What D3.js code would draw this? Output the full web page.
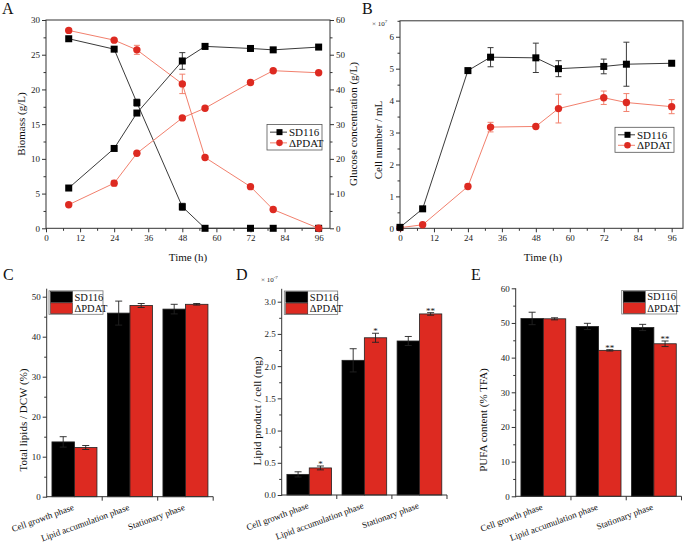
<!DOCTYPE html>
<html><head><meta charset="utf-8">
<script src="https://cdn.jsdelivr.net/npm/d3@7"></script>
<style>body{margin:0;background:#fff}svg{display:block}svg text{font-family:"Liberation Serif","Times New Roman",serif !important}</style>
</head><body><svg id="c" width="685" height="542"></svg>
<script>
// ---------- DATA ----------
const timeA = [8, 24, 32, 48, 56, 72, 80, 96];
const sdBiomass = [5.8, 11.5, 16.6, 24.1, 26.2, 25.9, 25.7, 26.1];
const sdBiomassErr = [0, 0, 0, 1.2, 0.4, 0, 0, 0];
const pdBiomass = [3.4, 6.5, 10.8, 15.9, 17.3, 21.0, 22.7, 22.4];
const pdBiomassErr = [0, 0.4, 0, 0, 0, 0.3, 0, 0];
const sdGlucose = [54.6, 51.6, 36.2, 6.2, 0, 0, 0, 0];
const sdGlucoseErr = [0, 0, 1.0, 1.0, 0, 0, 0, 0];
const pdGlucose = [57.0, 54.2, 51.4, 41.6, 20.4, 12.0, 5.4, 0];
const pdGlucoseErr = [0, 0, 1.3, 2.8, 0, 0, 0, 0];

const timeB = [0, 8, 24, 32, 48, 56, 72, 80, 96];
const sdCells = [0.03, 0.61, 4.94, 5.36, 5.34, 5.0, 5.07, 5.14, 5.17];
const sdCellsErr = [0, 0, 0, 0.3, 0.46, 0.25, 0.23, 0.69, 0];
const pdCells = [0.02, 0.11, 1.31, 3.17, 3.19, 3.75, 4.09, 3.94, 3.81];
const pdCellsErr = [0, 0, 0.07, 0.15, 0, 0.45, 0.21, 0.28, 0.22];

const xTicksTime = [0, 12, 24, 36, 48, 60, 72, 84, 96];
const phases = ["Cell growth phase", "Lipid accumulation phase", "Stationary phase"];
const strains = ["SD116", "\u0394PDAT"];

const lipidSD = [13.7, 45.9, 46.9];
const lipidSDErr = [1.3, 3.0, 1.2];
const lipidPD = [12.3, 47.8, 48.1];
const lipidPDErr = [0.5, 0.5, 0.2];

const perCellSD = [0.32, 2.09, 2.39];
const perCellSDErr = [0.04, 0.18, 0.07];
const perCellPD = [0.42, 2.44, 2.81];
const perCellPDErr = [0.03, 0.07, 0.02];
const perCellStars = ["*", "*", "**"];

const pufaSD = [51.3, 49.0, 48.7];
const pufaSDErr = [1.8, 0.9, 0.9];
const pufaPD = [51.2, 42.1, 44.0];
const pufaPDErr = [0.3, 0.2, 0.8];
const pufaStars = ["", "**", "**"];

// ---------- STYLE ----------
const FONT = "'Liberation Serif','Times New Roman',serif";
const AX = "#333";
const RED = "#dd2a21";
const RED_LINE = "#f2806d";
const DARK_LINE = "#3a3a3a";

const svg = d3.select("#c").attr("font-family", FONT);

function styleAxis(g) {
  g.attr("font-family", FONT);
  g.selectAll("path.domain").attr("stroke", AX);
  g.selectAll(".tick line").attr("stroke", AX);
  g.selectAll(".tick text").attr("font-size", 9).attr("fill", "#222");
  return g;
}
function label(x, y, txt, size, opts = {}) {
  const t = svg.append("text").attr("x", x).attr("y", y).text(txt)
    .attr("font-size", size).attr("fill", "#111").attr("text-anchor", opts.anchor || "middle");
  if (opts.rotate) t.attr("transform", `rotate(${opts.rotate},${x},${y})`);
  return t;
}
function halfSteps(arr) {
  const r = [];
  for (let i = 0; i < arr.length - 1; i++) r.push((arr[i] + arr[i + 1]) / 2);
  return r;
}

function drawSeries(g, x, y, xs, ys, errs, kind) {
  const lineCol = kind === "sq" ? DARK_LINE : RED_LINE;
  const data = xs.map((t, i) => ({ t, v: ys[i], e: errs[i] }));
  g.append("path").datum(data)
    .attr("d", d3.line().x(d => x(d.t)).y(d => y(d.v)))
    .attr("fill", "none").attr("stroke", lineCol).attr("stroke-width", 1);
  const eb = g.append("g").attr("stroke", lineCol).attr("stroke-width", 1);
  data.filter(d => d.e > 0).forEach(d => {
    const cx = x(d.t), y1 = y(d.v + d.e), y2 = y(d.v - d.e);
    eb.append("line").attr("x1", cx).attr("x2", cx).attr("y1", y1).attr("y2", y2);
    eb.append("line").attr("x1", cx - 3).attr("x2", cx + 3).attr("y1", y1).attr("y2", y1);
    eb.append("line").attr("x1", cx - 3).attr("x2", cx + 3).attr("y1", y2).attr("y2", y2);
  });
  data.forEach(d => {
    if (kind === "sq") {
      g.append("rect").attr("x", x(d.t) - 3.5).attr("y", y(d.v) - 3.5)
        .attr("width", 7).attr("height", 7).attr("fill", "#000");
    } else {
      g.append("circle").attr("cx", x(d.t)).attr("cy", y(d.v)).attr("r", 3.7)
        .attr("fill", RED);
    }
  });
}

function lineLegend(x0, y0, w, h, rows) {
  svg.append("rect").attr("x", x0).attr("y", y0).attr("width", w).attr("height", h)
    .attr("fill", "#fff").attr("stroke", "#555").attr("stroke-width", 0.8);
  rows.forEach((r, i) => {
    const cy = y0 + h * (i === 0 ? 0.3 : 0.72);
    svg.append("line").attr("x1", x0 + 3).attr("x2", x0 + 20).attr("y1", cy).attr("y2", cy)
      .attr("stroke", r.kind === "sq" ? DARK_LINE : RED_LINE);
    if (r.kind === "sq") svg.append("rect").attr("x", x0 + 12.5 - 3).attr("y", cy - 3).attr("width", 6).attr("height", 6).attr("fill", "#000");
    else svg.append("circle").attr("cx", x0 + 12.5).attr("cy", cy).attr("r", 3.3).attr("fill", RED);
    svg.append("text").attr("x", x0 + 22).attr("y", cy + 3.8).text(r.name)
      .attr("font-size", 11).attr("fill", "#111");
  });
}

// ---------- PANEL A ----------
{
  const x = d3.scaleLinear().domain([0, 100]).range([46, 330]);
  const yL = d3.scaleLinear().domain([0, 30]).range([228.3, 20]);
  const yR = d3.scaleLinear().domain([0, 60]).range([228.3, 20]);
  const g = svg.append("g");
  g.append("rect").attr("x", 46).attr("y", 20).attr("width", 284).attr("height", 208.3)
    .attr("fill", "none").attr("stroke", AX);
  styleAxis(g.append("g").attr("transform", "translate(0,228.3)")
    .call(d3.axisBottom(x).tickValues(xTicksTime).tickSize(4).tickPadding(2).tickFormat(d3.format("d"))));
  styleAxis(g.append("g").attr("transform", "translate(0,228.3)")
    .call(d3.axisBottom(x).tickValues(halfSteps(xTicksTime)).tickSize(2.5).tickFormat("")));
  const lt = d3.range(0, 31, 5);
  styleAxis(g.append("g").attr("transform", "translate(46,0)")
    .call(d3.axisLeft(yL).tickValues(lt).tickSize(4).tickPadding(2).tickFormat(d3.format("d"))));
  styleAxis(g.append("g").attr("transform", "translate(46,0)")
    .call(d3.axisLeft(yL).tickValues(halfSteps(lt)).tickSize(2.5).tickFormat("")));
  const rt = d3.range(0, 61, 10);
  styleAxis(g.append("g").attr("transform", "translate(330,0)")
    .call(d3.axisRight(yR).tickValues(rt).tickSize(4).tickPadding(2).tickFormat(d3.format("d"))));
  styleAxis(g.append("g").attr("transform", "translate(330,0)")
    .call(d3.axisRight(yR).tickValues(halfSteps(rt)).tickSize(2.5).tickFormat("")));
  g.selectAll("path.domain").remove();

  drawSeries(g, x, yR, timeA, sdGlucose, sdGlucoseErr, "sq");
  drawSeries(g, x, yR, timeA, pdGlucose, pdGlucoseErr, "ci");
  drawSeries(g, x, yL, timeA, pdBiomass, pdBiomassErr, "ci");
  drawSeries(g, x, yL, timeA, sdBiomass, sdBiomassErr, "sq");

  lineLegend(267, 124.5, 55, 25.5, [{ name: strains[0], kind: "sq" }, { name: strains[1], kind: "ci" }]);
  label(188, 261, "Time (h)", 11);
  label(24.5, 124, "Biomass (g/L)", 11, { rotate: -90 });
  label(357, 124, "Glucose concentration (g/L)", 11, { rotate: -90 });
  label(2, 14, "A", 16, { anchor: "start" });
}

// ---------- PANEL B ----------
{
  const x = d3.scaleLinear().domain([0, 100]).range([400, 683]);
  const y = d3.scaleLinear().domain([0, 6.5]).range([228.3, 20.8]);
  const g = svg.append("g");
  g.append("rect").attr("x", 400).attr("y", 20.8).attr("width", 283).attr("height", 207.5)
    .attr("fill", "none").attr("stroke", AX);
  styleAxis(g.append("g").attr("transform", "translate(0,228.3)")
    .call(d3.axisBottom(x).tickValues(xTicksTime).tickSize(4).tickPadding(2).tickFormat(d3.format("d"))));
  styleAxis(g.append("g").attr("transform", "translate(0,228.3)")
    .call(d3.axisBottom(x).tickValues(halfSteps(xTicksTime)).tickSize(2.5).tickFormat("")));
  const lt = d3.range(0, 7, 1);
  styleAxis(g.append("g").attr("transform", "translate(400,0)")
    .call(d3.axisLeft(y).tickValues(lt).tickSize(4).tickPadding(2).tickFormat(d3.format("d"))));
  styleAxis(g.append("g").attr("transform", "translate(400,0)")
    .call(d3.axisLeft(y).tickValues(halfSteps(lt).concat([6.5])).tickSize(2.5).tickFormat("")));
  g.selectAll("path.domain").remove();

  drawSeries(g, x, y, timeB, pdCells, pdCellsErr, "ci");
  drawSeries(g, x, y, timeB, sdCells, sdCellsErr, "sq");

  lineLegend(615, 127.3, 59, 25, [{ name: strains[0], kind: "sq" }, { name: strains[1], kind: "ci" }]);
  const sc = svg.append("text").attr("x", 372).attr("y", 25.5).attr("font-size", 7).attr("fill", "#222");
  sc.append("tspan").text("\u00d7 10");
  sc.append("tspan").text("7").attr("font-size", 5).attr("dy", -3);
  label(543, 261, "Time (h)", 11);
  label(382, 140, "Cell number / mL", 11, { rotate: -90 });
  label(362, 14, "B", 16, { anchor: "start" });
}

// ---------- BAR PANELS ----------
function barPanel(cfg) {
  const g = svg.append("g");
  const x0 = d3.scaleBand().domain(phases).range([cfg.left, cfg.right])
    .paddingInner(0.189).paddingOuter(0.0946);
  const x1 = d3.scaleBand().domain(strains).range([0, x0.bandwidth()]);
  const y = d3.scaleLinear().domain([0, cfg.ymax]).range([cfg.y0, cfg.ytop]);
  const step = x0.step();
  const bounds = phases.map((p, i) => cfg.left + step * (i + 1));

  const series = [
    { s: strains[0], v: cfg.sd, e: cfg.sdErr, fill: "#000" },
    { s: strains[1], v: cfg.pd, e: cfg.pdErr, fill: RED }
  ];
  series.forEach(se => {
    phases.forEach((p, i) => {
      const bx = x0(p) + x1(se.s);
      g.append("rect").attr("x", bx).attr("y", y(se.v[i])).attr("width", x1.bandwidth())
        .attr("height", y(0) - y(se.v[i])).attr("fill", se.fill)
        .attr("stroke", "#222").attr("stroke-width", 0.8);
    });
  });
  series.forEach(se => {
    phases.forEach((p, i) => {
      const cx = x0(p) + x1(se.s) + x1.bandwidth() / 2;
      const yt = y(se.v[i] + se.e[i]), yb = y(se.v[i] - se.e[i]);
      const eg = g.append("g").attr("stroke", "#222").attr("stroke-width", 0.9);
      eg.append("line").attr("x1", cx).attr("x2", cx).attr("y1", yt).attr("y2", yb);
      eg.append("line").attr("x1", cx - 3.5).attr("x2", cx + 3.5).attr("y1", yt).attr("y2", yt);
      eg.append("line").attr("x1", cx - 3.5).attr("x2", cx + 3.5).attr("y1", yb).attr("y2", yb);
    });
  });
  if (cfg.stars) {
    phases.forEach((p, i) => {
      if (!cfg.stars[i]) return;
      const cx = x0(p) + x1(strains[1]) + x1.bandwidth() / 2;
      g.append("text").attr("x", cx).attr("y", y(cfg.pd[i] + cfg.pdErr[i]) + 1)
        .attr("text-anchor", "middle").attr("font-size", 9).attr("fill", "#111")
        .text(cfg.stars[i]);
    });
  }

  styleAxis(g.append("g").attr("transform", `translate(${cfg.left},0)`)
    .call(d3.axisLeft(y).tickValues(cfg.ticks).tickSize(4).tickPadding(2).tickFormat(cfg.fmt)));
  styleAxis(g.append("g").attr("transform", `translate(${cfg.left},0)`)
    .call(d3.axisLeft(y).tickValues(halfSteps(cfg.ticks)).tickSize(2.5).tickFormat("")));
  g.selectAll("path.domain").remove();
  g.append("line").attr("x1", cfg.left).attr("x2", cfg.left).attr("y1", cfg.axTop).attr("y2", cfg.y0 + 1)
    .attr("stroke", AX);
  g.append("line").attr("x1", cfg.left).attr("x2", cfg.right).attr("y1", cfg.y0).attr("y2", cfg.y0)
    .attr("stroke", AX);
  bounds.forEach(bx => g.append("line").attr("x1", bx).attr("x2", bx)
    .attr("y1", cfg.y0).attr("y2", cfg.y0 + 4).attr("stroke", AX));

  phases.forEach(p => {
    const cx = x0(p) + x0.bandwidth() / 2, ly = cfg.y0 + 13;
    g.append("text").attr("x", cx).attr("y", ly).attr("text-anchor", "end")
      .attr("font-size", 9).attr("fill", "#111")
      .attr("transform", `rotate(-20,${cx},${ly})`).text(p);
  });

  const L = cfg.legend;
  g.append("rect").attr("x", L.x).attr("y", L.y).attr("width", L.w).attr("height", 23.5)
    .attr("fill", "#fff").attr("stroke", "#777").attr("stroke-width", 0.8);
  [["#000", strains[0]], [RED, strains[1]]].forEach((d, i) => {
    const ry = L.y + 0.8 + i * 11.3;
    g.append("rect").attr("x", L.x + 1.5).attr("y", ry).attr("width", 22).attr("height", 10.8)
      .attr("fill", d[0]).attr("stroke", "#222").attr("stroke-width", 0.5);
    g.append("text").attr("x", L.x + 25.5).attr("y", ry + 9).attr("font-size", 10.5)
      .attr("fill", "#111").text(d[1]);
  });

  label(cfg.ylab.x, cfg.ylab.y, cfg.ylab.t, 11, { rotate: -90 });
  label(cfg.letter.x, cfg.letter.y, cfg.letter.t, 16, { anchor: "start" });
}

barPanel({
  left: 46.7, right: 213.2, y0: 496.7, ytop: 288.7, ymax: 52, axTop: 288.7,
  ticks: d3.range(0, 51, 10), fmt: d3.format("d"),
  sd: lipidSD, sdErr: lipidSDErr, pd: lipidPD, pdErr: lipidPDErr,
  legend: { x: 49, y: 290.8, w: 54 },
  ylab: { x: 27, y: 420, t: "Total lipids / DCW (%)" },
  letter: { x: 3, y: 280, t: "C" }
});
barPanel({
  left: 281.7, right: 447, y0: 495, ytop: 288.8, ymax: 3.2, axTop: 288.8,
  ticks: d3.range(0, 3.01, 0.5), fmt: d3.format(".1f"),
  sd: perCellSD, sdErr: perCellSDErr, pd: perCellPD, pdErr: perCellPDErr, stars: perCellStars,
  legend: { x: 284.3, y: 291, w: 53.4 },
  ylab: { x: 260.5, y: 411, t: "Lipid product / cell (mg)" },
  letter: { x: 236, y: 280, t: "D" }
});
{
  const sc = svg.append("text").attr("x", 261).attr("y", 282).attr("font-size", 7).attr("fill", "#222");
  sc.append("tspan").text("\u00d7 10");
  sc.append("tspan").text("-7").attr("font-size", 5).attr("dy", -3);
}
barPanel({
  left: 515.7, right: 681.5, y0: 496.3, ytop: 288.3, ymax: 60, axTop: 288.3,
  ticks: d3.range(0, 61, 10), fmt: d3.format("d"),
  sd: pufaSD, sdErr: pufaSDErr, pd: pufaPD, pdErr: pufaPDErr, stars: pufaStars,
  legend: { x: 621.7, y: 290.5, w: 55 },
  ylab: { x: 487, y: 420, t: "PUFA content (% TFA)" },
  letter: { x: 471, y: 280, t: "E" }
});
</script></body></html>
